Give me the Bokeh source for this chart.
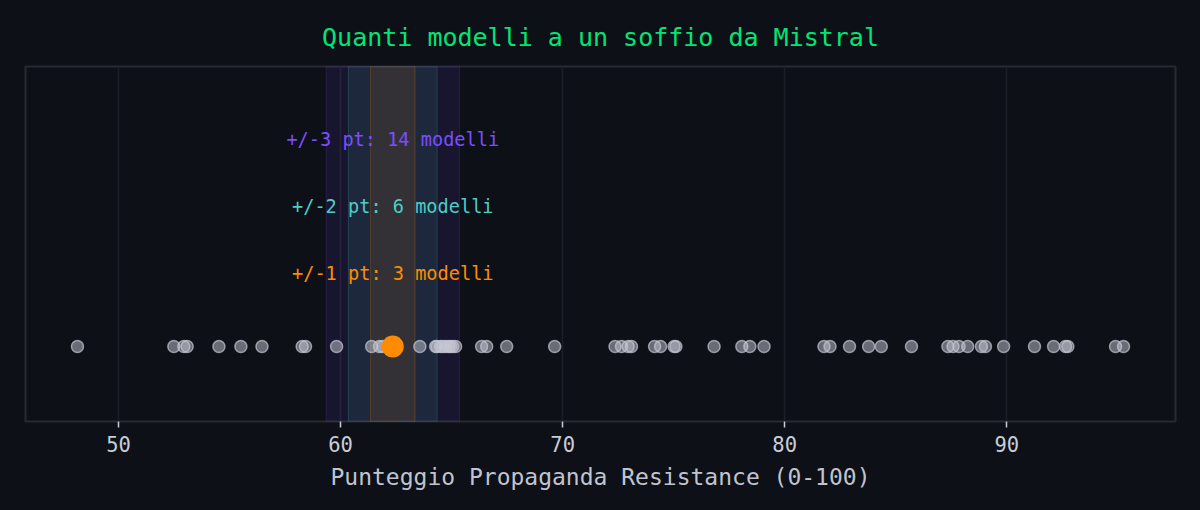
from bokeh.plotting import figure
from bokeh.models import Range1d, BoxAnnotation, FixedTicker
from bokeh.core.properties import value
from bokeh.embed import file_html
from bokeh.resources import INLINE

# ---- data ----
mistral_score = 62.35
other_scores = [
    48.15, 52.49, 52.94, 53.09, 54.52, 55.51, 56.46, 58.27, 58.42, 59.82,
    61.40, 61.75, 61.90, 63.57, 64.28, 64.34, 64.50, 64.60, 64.73, 64.85,
    64.95, 65.05, 65.18, 66.35, 66.58, 67.48, 69.64, 72.36, 72.65, 72.95,
    73.10, 74.14, 74.41, 75.02, 75.10, 76.82, 78.07, 78.43, 79.07, 81.77,
    82.04, 82.92, 83.78, 84.35, 85.71, 87.35, 87.58, 87.85, 88.24, 88.86,
    89.04, 89.86, 91.25, 92.11, 92.65, 92.75, 94.90, 95.26,
]
band_widths = [3, 2, 1]
band_labels = ["+/-1 pt: 3 modelli", "+/-2 pt: 6 modelli", "+/-3 pt: 14 modelli"]
x_ticks = [50, 60, 70, 80, 90]

# ---- styles ----
BG = "#0d1017"
FONT = "DejaVu Sans Mono"
band_fill = {3: "#7c4dff", 2: "#4ecdc4", 1: "#ff8c00"}
label_colors = ["#ff8c00", "#4ecdc4", "#7c4dff"]
label_levels = [0.545, 1.045, 1.545]

p = figure(width=1200, height=510, output_backend="svg", toolbar_location=None,
           x_range=Range1d(45.81, 97.6), y_range=Range1d(-0.56, 2.089),
           background_fill_color=BG, border_fill_color=BG,
           min_border_left=25, min_border_right=25,
           min_border_top=66, min_border_bottom=89)

p.title.text = "Quanti modelli a un soffio da Mistral"
p.title.align = "center"
p.title.text_font = FONT
p.title.text_font_size = "25px"
p.title.text_font_style = "normal"
p.title.text_color = "#00e676"
p.title.standoff = 30

p.outline_line_color = "#262a33"
p.outline_line_width = 2

for w in band_widths:
    box = BoxAnnotation(left=mistral_score - w, right=mistral_score + w,
                        fill_color=band_fill[w], fill_alpha=0.1,
                        line_color=band_fill[w], line_alpha=0.2, line_width=1,
                        level="underlay")
    p.add_layout(box)

p.scatter(x=other_scores, y=[0] * len(other_scores), size=12,
          fill_color="#c5c8d4", fill_alpha=0.5,
          line_color="#c5c8d4", line_alpha=0.7, line_width=1.5)
p.scatter(x=[mistral_score], y=[0], size=22, fill_color="#ff8c00",
          line_color=None)

p.text(x=[mistral_score] * len(band_labels), y=label_levels, text=band_labels,
       text_color=label_colors, text_font=value(FONT), text_font_size="18.6px",
       text_align="center", text_baseline="middle")

p.yaxis.visible = False
p.ygrid.visible = False
p.xgrid.grid_line_color = "#1b1e26"
p.xgrid.grid_line_width = 1.5

xa = p.xaxis[0]
xa.ticker = FixedTicker(ticks=x_ticks)
xa.axis_line_color = None
xa.major_tick_line_color = "#c9ccd6"
xa.major_tick_line_width = 1.5
xa.major_tick_out = 6
xa.major_tick_in = 0
xa.minor_tick_line_color = None
xa.major_label_text_font = FONT
xa.major_label_text_font_size = "20.5px"
xa.major_label_text_color = "#c9ccd6"
xa.major_label_standoff = 8
xa.axis_label = "Punteggio Propaganda Resistance (0-100)"
xa.axis_label_text_font = FONT
xa.axis_label_text_font_size = "23px"
xa.axis_label_text_font_style = "normal"
xa.axis_label_text_color = "#c0c4cf"
xa.axis_label_standoff = 9

html = file_html(p, INLINE)
html = html.replace("<head>", "<head><style>html,body{background:#0d1017;margin:0;padding:0;overflow:hidden;}</style>", 1)
open("out.html", "w").write(html)
